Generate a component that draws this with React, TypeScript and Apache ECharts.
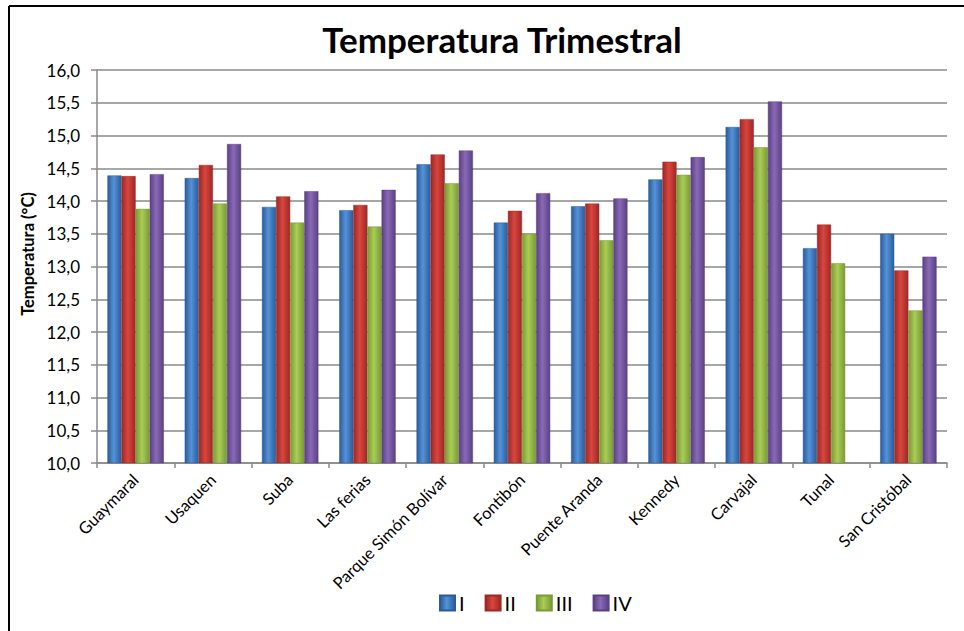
import React, { useEffect, useRef } from "react";
import * as echarts from "echarts";

const categories = [
  "Guaymaral",
  "Usaquen",
  "Suba",
  "Las ferias",
  "Parque Simón Bolívar",
  "Fontibón",
  "Puente Aranda",
  "Kennedy",
  "Carvajal",
  "Tunal",
  "San Cristóbal",
];
const seriesNames = ["I", "II", "III", "IV"];
const valuesI = [14.39, 14.35, 13.91, 13.86, 14.56, 13.67, 13.92, 14.33, 15.13, 13.28, 13.5];
const valuesII = [14.38, 14.55, 14.07, 13.94, 14.71, 13.85, 13.96, 14.6, 15.25, 13.64, 12.94];
const valuesIII = [13.88, 13.96, 13.67, 13.61, 14.27, 13.5, 13.4, 14.4, 14.82, 13.05, 12.33];
const valuesIV = [14.41, 14.87, 14.15, 14.17, 14.77, 14.12, 14.04, 14.67, 15.52, null, 13.15];

const palettes = [
  ["#2a5c9a", "#5592d8", "#2a5c9a"],
  ["#9e2824", "#d8463f", "#9e2824"],
  ["#7a9a34", "#a9cd57", "#7a9a34"],
  ["#5a4180", "#8a69b8", "#5a4180"],
];

function grad(p: string[]) {
  return new echarts.graphic.LinearGradient(0, 0, 1, 0, [
    { offset: 0, color: p[0] },
    { offset: 0.45, color: p[1] },
    { offset: 1, color: p[2] },
  ]);
}

export default function App() {
  const ref = useRef<HTMLDivElement>(null);
  useEffect(() => {
    document.body.style.overflow = "hidden";
    const chart = echarts.init(ref.current!, null, { renderer: "svg" });
    const font = "Lato, 'Open Sans', sans-serif";
    const allValues = [valuesI, valuesII, valuesIII, valuesIV];
    chart.setOption({
      animation: false,
      backgroundColor: "#ffffff",
      textStyle: { fontFamily: font },
      title: {
        text: "Temperatura Trimestral",
        left: 497,
        textAlign: "center",
        top: 16,
        textStyle: { fontFamily: font, fontSize: 35, fontWeight: "bold", color: "#000" },
      },
      legend: {
        data: seriesNames,
        bottom: 13,
        left: 434,
        itemWidth: 15,
        itemHeight: 15,
        itemGap: 20,
        icon: "rect",
        textStyle: { fontFamily: font, fontSize: 20, color: "#000", padding: [0, 0, 0, -1] },
      },
      grid: { left: 97, right: 17, top: 70, bottom: 168, containLabel: false },
      xAxis: {
        type: "category",
        data: categories,
        axisLine: { lineStyle: { color: "#8a8a8a", width: 1.5 } },
        axisTick: { show: true, length: 5, lineStyle: { color: "#8a8a8a", width: 1.5 } },
        axisLabel: {
          rotate: 45,
          interval: 0,
          fontFamily: font,
          fontSize: 16.5,
          color: "#000",
          margin: 14,
        },
      },
      yAxis: {
        type: "value",
        min: 10,
        max: 16,
        interval: 0.5,
        axisLine: { show: true, lineStyle: { color: "#8a8a8a", width: 1.5 } },
        axisTick: { show: true, inside: false, length: 6, lineStyle: { color: "#8a8a8a", width: 1.5 } },
        splitLine: { lineStyle: { color: "#8a8a8a", width: 1.5 } },
        axisLabel: {
          fontFamily: font,
          fontSize: 17,
          color: "#000",
          margin: 17,
          formatter: (v: number) => v.toFixed(1).replace(".", ","),
        },
      },
      graphic: [
        {
          type: "text",
          x: 28,
          y: 254,
          rotation: Math.PI / 2,
          style: {
            text: "Temperatura (°C)",
            fontFamily: font,
            fontSize: 16.5,
            fontWeight: "bold",
            fill: "#000",
            textAlign: "center",
            textVerticalAlign: "middle",
          },
        },
        { type: "line", shape: { x1: 9, y1: 6, x2: 964, y2: 6 }, style: { stroke: "#000", lineWidth: 2 } },
        { type: "line", shape: { x1: 9, y1: 6, x2: 9, y2: 631 }, style: { stroke: "#000", lineWidth: 2 } },
      ],
      series: seriesNames.map((name, i) => ({
        name,
        type: "bar",
        data: allValues[i],
        barGap: "0%",
        barCategoryGap: "27%",
        itemStyle: {
          color: grad(palettes[i]),
          borderColor: palettes[i][0],
          borderWidth: 0.5,
        },
      })),
      color: ["#3f78c0", "#c0392f", "#99bb45", "#7b5ba6"],
    });
    return () => chart.dispose();
  }, []);
  return <div ref={ref} style={{ position: "fixed", left: 0, top: 0, width: 964, height: 631 }} />;
}
